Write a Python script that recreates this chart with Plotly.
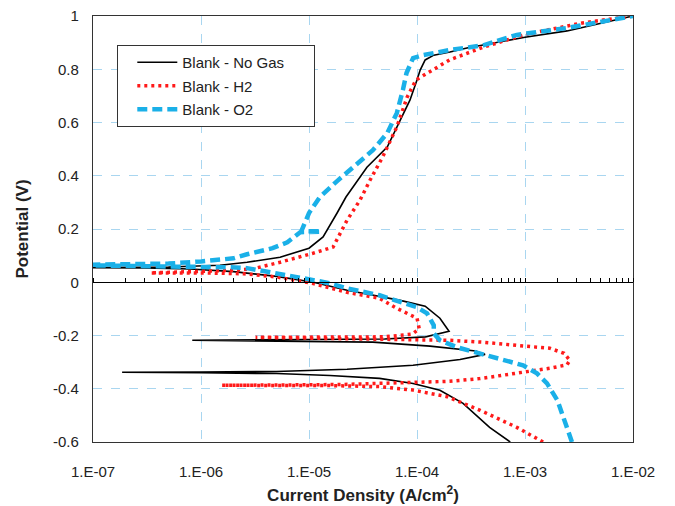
import plotly.graph_objects as go

# ---- data (current density A/cm2, potential V) ----
nogas_i = [7.3e-4, 4.7e-4, 2.67e-4, 1.63e-4, 9.2e-5, 4.5e-5, 1.56e-5, 5e-6, 1e-6, 1.86e-7,
           1e-6, 5e-6, 2.25e-5, 9.2e-5, 2.5e-4, 4.27e-4,
           3.5e-4, 1.32e-4, 3.9e-5, 1e-5, 8.3e-7,
           1e-5, 5e-5, 1.2e-4, 1.98e-4,
           1.63e-4, 1.19e-4, 7e-5, 4.5e-5, 2.25e-5, 1.1e-5, 5e-6, 2e-6, 8e-7, 3e-7, 1e-7, 5e-8,
           5e-8, 1e-7, 5e-7, 1e-6, 1.5e-6, 2.67e-6, 5.4e-6, 1e-5, 1.35e-5, 1.82e-5, 2.2e-5,
           3.44e-5, 5.3e-5, 7e-5, 8.6e-5, 1e-4, 1.07e-4, 1.19e-4, 1.43e-4, 2.02e-4, 2.9e-4,
           1e-3, 2.45e-3, 1e-2]
nogas_v = [-0.60, -0.545, -0.455, -0.406, -0.38, -0.361, -0.35, -0.343, -0.34, -0.338,
           -0.337, -0.335, -0.327, -0.312, -0.29, -0.271,
           -0.258, -0.24, -0.225, -0.222, -0.218,
           -0.215, -0.213, -0.205, -0.184,
           -0.135, -0.09, -0.068, -0.053, -0.03, 0.0, 0.022, 0.04, 0.05, 0.054, 0.055, 0.055,
           0.055, 0.055, 0.057, 0.06, 0.064, 0.075, 0.094, 0.128, 0.17, 0.26, 0.32,
           0.432, 0.508, 0.609, 0.684, 0.76, 0.797, 0.835, 0.853, 0.865, 0.88,
           0.92, 0.944, 1.0]

h2_i = [1.47e-3, 8.4e-4, 3.8e-4, 1.9e-4, 9.2e-5, 4.5e-5, 1.5e-5, 5e-6, 1.56e-6,
        5e-6, 2e-5, 5e-5, 1.2e-4, 2e-4, 3.8e-4, 8.4e-4, 1.7e-3, 2.45e-3, 2.6e-3,
        2.3e-3, 1.7e-3, 8.4e-4, 4e-4, 2e-4, 5e-5, 1e-5, 3.2e-6,
        1e-5, 5e-5, 9e-5, 1.05e-4, 1e-4, 8e-5, 6.5e-5,
        4.5e-5, 2.25e-5, 1.1e-5, 5e-6, 2.5e-6, 1e-6, 3.4e-7,
        1e-6, 2e-6, 3e-6, 5.4e-6, 1.09e-5, 1.67e-5, 2.25e-5, 2.96e-5, 3.67e-5, 4.8e-5,
        6.5e-5, 8.1e-5, 9.8e-5, 1.24e-4, 2e-4, 4.1e-4, 1e-3, 3.4e-3, 1e-2]
h2_v = [-0.60, -0.545, -0.48, -0.43, -0.405, -0.392, -0.388, -0.387, -0.387,
        -0.386, -0.384, -0.38, -0.375, -0.372, -0.362, -0.342, -0.323, -0.31, -0.293,
        -0.267, -0.248, -0.237, -0.225, -0.218, -0.213, -0.21, -0.207,
        -0.207, -0.205, -0.195, -0.175, -0.135, -0.115, -0.098,
        -0.06, -0.038, -0.005, 0.02, 0.032, 0.035, 0.035,
        0.04, 0.045, 0.05, 0.075, 0.109, 0.132, 0.233, 0.308, 0.383, 0.47,
        0.583, 0.695, 0.76, 0.786, 0.835, 0.883, 0.93, 0.974, 1.0]

o2_i = [2.72e-3, 2.25e-3, 2e-3, 1.6e-3, 1.29e-3, 9.6e-4, 5.5e-4, 3.6e-4, 2.34e-4, 1.63e-4,
        1.43e-4, 1.43e-4, 1.24e-4, 1e-4, 6.5e-5, 4.5e-5, 2.25e-5, 1.56e-5, 1.1e-5, 7.7e-6,
        4.4e-6, 2.67e-6, 1.86e-6, 8e-7, 3e-7, 1e-7, 5e-8,
        5e-8, 1e-7, 5e-7, 1e-6, 2e-6, 2.67e-6, 4.6e-6, 6.3e-6, 8.3e-6, 1.3e-5, 8.5e-6,
        1e-5, 1.26e-5, 1.82e-5, 2.55e-5, 3.9e-5, 5.3e-5, 6.5e-5, 7.4e-5, 8e-5, 9.2e-5,
        1.14e-4, 1.63e-4, 2e-4, 4.1e-4, 8.4e-4, 2.45e-3, 1e-2]
o2_v = [-0.60, -0.508, -0.444, -0.38, -0.342, -0.312, -0.286, -0.267, -0.244, -0.218,
        -0.192, -0.162, -0.117, -0.094, -0.068, -0.049, -0.023, -0.004, 0.008, 0.019,
        0.038, 0.053, 0.056, 0.058, 0.06, 0.062, 0.063,
        0.065, 0.066, 0.07, 0.078, 0.09, 0.105, 0.128, 0.15, 0.188, 0.19, 0.192,
        0.26, 0.32, 0.38, 0.432, 0.496, 0.56, 0.635, 0.722, 0.786, 0.842,
        0.853, 0.865, 0.872, 0.89, 0.929, 0.955, 1.0]

x_tickvals = [1e-7, 1e-6, 1e-5, 1e-4, 1e-3, 1e-2]
x_ticktext = ["1.E-07", "1.E-06", "1.E-05", "1.E-04", "1.E-03", "1.E-02"]
y_tickvals = [1, 0.8, 0.6, 0.4, 0.2, 0, -0.2, -0.4, -0.6]
y_ticktext = ["1", "0.8", "0.6", "0.4", "0.2", "0", "-0.2", "-0.4", "-0.6"]
minor_vals = [m * 10 ** e for e in range(-7, -2) for m in range(1, 10)] + [1e-2]

FONT = "Arial, Liberation Sans, sans-serif"
GRID = "#a9d6f0"
PAD = "\u00a0" * 6

fig = go.Figure()
fig.add_trace(go.Scatter(x=nogas_i, y=nogas_v, mode="lines", name="Blank - No Gas" + PAD,
                         legendgroup="a", line=dict(color="black", width=1.6)))
fig.add_trace(go.Scatter(x=h2_i, y=h2_v, mode="lines", name="Blank - H2",
                         legendgroup="b", line=dict(color="#ff1a1a", width=3.5, dash="3px,4px")))
fig.add_trace(go.Scatter(x=o2_i, y=o2_v, mode="lines", name="Blank - O2",
                         legendgroup="c", line=dict(color="#1ab0e8", width=4.5, dash="10px,5px")))
# invisible trace to activate overlaid zero-line axis
fig.add_trace(go.Scatter(x=[1e-7, 1e-2], y=[0, 0], mode="lines", xaxis="x2",
                         line=dict(width=0), showlegend=False, hoverinfo="skip"))

fig.update_layout(
    width=675, height=506,
    margin=dict(l=93, r=42, t=16, b=64),
    paper_bgcolor="white", plot_bgcolor="white",
    font=dict(family=FONT, size=15, color="#222"),
    showlegend=True,
    legend=dict(x=0.045, y=0.932, xanchor="left", yanchor="top",
                bordercolor="#333", borderwidth=1, bgcolor="white",
                font=dict(family=FONT, size=15, color="#222"),
                tracegroupgap=1, itemwidth=40, indentation=14),
    xaxis=dict(type="log", range=[-7, -2], tickvals=x_tickvals, ticktext=x_ticktext,
               showgrid=True, gridcolor=GRID, griddash="dash", gridwidth=1,
               showline=True, linecolor="#333", linewidth=1.2, mirror=True,
               ticks="", ticklabelstandoff=16, zeroline=False, automargin=False,
               tickfont=dict(size=15, family=FONT, color="#222"),
               title=dict(text="<b>Current Density (A/cm<sup>2</sup>)</b>",
                          font=dict(size=17, family=FONT, color="#222"), standoff=10)),
    xaxis2=dict(type="log", range=[-7, -2], overlaying="x", anchor="free", position=0.375,
                side="top", showline=True, linecolor="black", linewidth=1.2,
                tickvals=minor_vals, ticks="outside", ticklen=4, tickcolor="black",
                showticklabels=False, showgrid=False, zeroline=False, automargin=False),
    yaxis=dict(range=[-0.6, 1], tickvals=y_tickvals, ticktext=y_ticktext,
               showgrid=True, gridcolor=GRID, griddash="dash", gridwidth=1,
               showline=True, linecolor="#333", linewidth=1.2, mirror=True,
               ticks="", ticklabelstandoff=10, zeroline=False, automargin=False,
               tickfont=dict(size=15, family=FONT, color="#222"),
               title=dict(text="<b>Potential (V)</b>",
                          font=dict(size=17, family=FONT, color="#222"), standoff=20)),
)

fig.write_html("out.html")
